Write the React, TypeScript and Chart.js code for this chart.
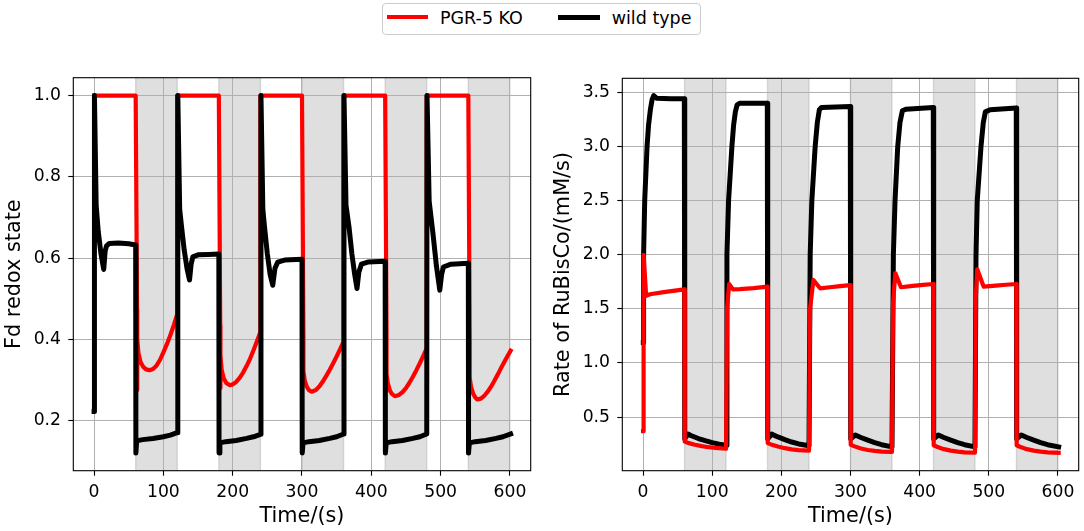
import { useEffect, useRef } from "react";
import { Chart, registerables } from "chart.js";

Chart.register(...registerables);

type Pt = [number, number];

const FONT = "'DejaVu Sans', sans-serif";

// light-off periods (shaded)
const darkPeriods: Pt[] = [
  [60, 120],
  [180, 240],
  [300, 360],
  [420, 480],
  [540, 600],
];

const timeTicks = [0, 100, 200, 300, 400, 500, 600];
const fdTicks = [0.2, 0.4, 0.6, 0.8, 1.0];
const rateTicks = [0.5, 1.0, 1.5, 2.0, 2.5, 3.0, 3.5];

// Fd redox state, PGR-5 KO
const fdKo: Pt[] = [
  [0, 1.0], [60, 1.0], [62, 0.474], [62, 0.275], [62.6, 0.4], [64, 0.366], [67, 0.344], [71, 0.332],
  [75, 0.326], [80, 0.324], [85, 0.327], [90, 0.335], [95, 0.349], [100, 0.368], [105, 0.388],
  [110, 0.41], [115, 0.435], [120, 0.462],
  [120, 1.0], [180, 1.0], [182, 0.435], [182, 0.28], [182.6, 0.36], [184, 0.326], [187, 0.304],
  [191, 0.292], [196, 0.287], [200, 0.289], [205, 0.295], [210, 0.305], [215, 0.318], [220, 0.334],
  [225, 0.352], [230, 0.373], [235, 0.395], [240, 0.418],
  [240, 1.0], [300, 1.0], [302, 0.418], [302, 0.322], [304, 0.298], [307, 0.283], [310, 0.275],
  [314, 0.271], [320, 0.275], [325, 0.284], [330, 0.296], [335, 0.31], [340, 0.325], [345, 0.341],
  [350, 0.358], [355, 0.376], [360, 0.394],
  [360, 1.0], [420, 1.0], [422, 0.406], [422, 0.315], [424, 0.29], [427, 0.273], [430, 0.265],
  [434, 0.26], [440, 0.263], [445, 0.27], [450, 0.28], [455, 0.293], [460, 0.308], [465, 0.324],
  [470, 0.341], [475, 0.359], [480, 0.378],
  [480, 1.0], [540, 1.0], [542, 0.398], [542, 0.305], [544, 0.282], [547, 0.266], [550, 0.257],
  [553, 0.252], [558, 0.254], [563, 0.261], [568, 0.271], [573, 0.284], [578, 0.299], [583, 0.315],
  [588, 0.332], [594, 0.351], [601, 0.372],
];

// Fd redox state, wild type
const fdWt: Pt[] = [
  [0, 0.222], [0.5, 1.0], [3, 0.73], [6, 0.665], [10, 0.61], [13.9, 0.572], [16, 0.618], [18, 0.63],
  [22, 0.636], [35, 0.637], [50, 0.635], [60, 0.632],
  [60.3, 0.12], [61.5, 0.15], [70, 0.153], [85, 0.156], [100, 0.16], [110, 0.164], [120, 0.17],
  [120.8, 1.0], [123.5, 0.72], [126, 0.68], [130, 0.62], [134, 0.575], [137.7, 0.546], [140, 0.585],
  [142.5, 0.603], [150, 0.608], [165, 0.609], [180, 0.61],
  [180.3, 0.12], [181.5, 0.145], [190, 0.148], [205, 0.151], [220, 0.156], [230, 0.16], [240, 0.166],
  [240.8, 1.0], [243.5, 0.72], [246, 0.675], [250, 0.61], [254, 0.56], [257.8, 0.533], [261, 0.575],
  [265, 0.59], [275, 0.595], [300, 0.597],
  [300.3, 0.12], [301.5, 0.145], [310, 0.148], [325, 0.151], [340, 0.156], [350, 0.16], [360, 0.167],
  [360.6, 1.0], [363.5, 0.73], [367.8, 0.677], [372, 0.61], [376, 0.56], [379.4, 0.525], [382, 0.565],
  [385.7, 0.585], [395, 0.59], [420, 0.592],
  [420.3, 0.12], [421.5, 0.145], [430, 0.148], [445, 0.151], [460, 0.156], [470, 0.16], [480, 0.167],
  [480.4, 1.0], [483.5, 0.74], [489, 0.66], [494, 0.58], [498.8, 0.521], [501.5, 0.56], [504, 0.578],
  [515, 0.585], [540, 0.587],
  [540.3, 0.12], [541.5, 0.145], [550, 0.148], [565, 0.151], [580, 0.156], [590, 0.16], [601, 0.167],
];

// Rate of RuBisCo, PGR-5 KO
const rateKo: Pt[] = [
  [0, 0.37], [0.8, 2.0], [4.5, 1.62], [10, 1.635], [30, 1.655], [59.7, 1.68],
  [60.3, 0.275], [65, 0.262], [75, 0.245], [85, 0.232], [95, 0.222], [105, 0.215], [120, 0.208],
  [121.5, 1.5], [124.5, 1.73], [130, 1.68], [140, 1.682], [160, 1.692], [179.7, 1.705],
  [180.3, 0.26], [185, 0.248], [195, 0.228], [205, 0.213], [215, 0.202], [225, 0.195], [240, 0.19],
  [241.5, 1.5], [246.4, 1.767], [256, 1.69], [270, 1.7], [285, 1.71], [299.7, 1.72],
  [300.3, 0.245], [305, 0.232], [315, 0.21], [325, 0.196], [335, 0.188], [345, 0.182], [360, 0.178],
  [361.5, 1.55], [364.8, 1.83], [373, 1.7], [390, 1.713], [405, 1.722], [419.7, 1.73],
  [420.3, 0.24], [425, 0.226], [435, 0.204], [445, 0.19], [455, 0.181], [465, 0.175], [480, 0.171],
  [481.2, 1.6], [483.3, 1.866], [492.6, 1.705], [510, 1.715], [525, 1.723], [539.7, 1.73],
  [540.3, 0.24], [545, 0.226], [555, 0.204], [565, 0.19], [575, 0.181], [585, 0.175], [601, 0.17],
];

// Rate of RuBisCo, wild type
const rateWt: Pt[] = [
  [0.4, 1.19], [0.8, 2.0], [2.4, 2.5], [5.8, 3.0], [8, 3.2], [10.6, 3.34], [13, 3.43], [15.4, 3.47],
  [20, 3.445], [40, 3.44], [59.7, 3.44],
  [60.3, 0.3], [65, 0.343], [70, 0.328], [80, 0.302], [90, 0.282], [100, 0.264], [110, 0.25], [120, 0.24],
  [121.3, 2.0], [123.7, 2.5], [128.5, 3.0], [131, 3.2], [133.5, 3.32], [136, 3.385], [140, 3.4], [179.7, 3.4],
  [180.3, 0.3], [186, 0.343], [195, 0.317], [205, 0.292], [215, 0.27], [225, 0.252], [240, 0.235],
  [241.7, 2.0], [244.1, 2.5], [248.9, 3.0], [252, 3.22], [255, 3.34], [258, 3.36], [299.7, 3.37],
  [300.3, 0.3], [307, 0.335], [315, 0.312], [325, 0.287], [335, 0.264], [345, 0.245], [360, 0.225],
  [362, 2.0], [364.4, 2.5], [368.3, 3.0], [371.5, 3.22], [375, 3.33], [380, 3.345], [419.7, 3.36],
  [420.3, 0.3], [427, 0.335], [435, 0.312], [445, 0.287], [455, 0.264], [465, 0.245], [480, 0.225],
  [481.5, 2.0], [483.3, 2.5], [488.7, 3.0], [492, 3.22], [495, 3.32], [502, 3.34], [539.7, 3.355],
  [540.3, 0.3], [547, 0.335], [555, 0.312], [565, 0.287], [575, 0.264], [585, 0.245], [601, 0.225],
];

const shadePlugin = {
  id: "shade",
  beforeDraw(chart: any) {
    const { ctx, chartArea: a, scales } = chart;
    ctx.save();
    ctx.fillStyle = "rgba(128,128,128,0.25)";
    ctx.strokeStyle = "rgba(128,128,128,0.25)";
    ctx.lineWidth = 1.4;
    for (const [s, e] of darkPeriods) {
      const x0 = scales.x.getPixelForValue(s);
      const x1 = scales.x.getPixelForValue(e);
      ctx.fillRect(x0, a.top, x1 - x0, a.bottom - a.top);
      ctx.beginPath();
      ctx.moveTo(x0, a.top);
      ctx.lineTo(x0, a.bottom);
      ctx.moveTo(x1, a.top);
      ctx.lineTo(x1, a.bottom);
      ctx.stroke();
    }
    ctx.restore();
  },
};

const framePlugin = {
  id: "frame",
  afterDraw(chart: any) {
    const { ctx, chartArea: a } = chart;
    ctx.save();
    ctx.strokeStyle = "#000";
    ctx.lineWidth = 1.1;
    ctx.strokeRect(a.left, a.top, a.right - a.left, a.bottom - a.top);
    ctx.restore();
  },
};

type Series = { pts: Pt[]; color: string; width: number; order: number };

type PanelProps = {
  left: number;
  width: number;
  yMin: number;
  yMax: number;
  yTicks: number[];
  yTitle: string;
  yWidth: number;
  titlePad: number;
  padTop: number;
  padRight: number;
  series: Series[];
};

function Panel({ left, width, yMin, yMax, yTicks, yTitle, yWidth, titlePad, padTop, padRight, series }: PanelProps) {
  const canvasRef = useRef<HTMLCanvasElement | null>(null);

  useEffect(() => {
    if (!canvasRef.current) return;
    const grid = { color: "#b0b0b0", lineWidth: 1, tickColor: "#000", tickLength: 5, tickWidth: 1.1 };
    const chart = new Chart(canvasRef.current, {
      type: "line",
      data: {
        datasets: series.map((s) => ({
          data: s.pts.map(([x, y]) => ({ x, y })),
          borderColor: s.color,
          borderWidth: s.width,
          pointRadius: 0,
          tension: 0,
          fill: false,
          order: s.order,
          borderJoinStyle: "round" as const,
          borderCapStyle: "square" as const,
        })),
      },
      options: {
        responsive: false,
        animation: false,
        events: [],
        layout: { padding: { left: 0, top: padTop, right: padRight, bottom: 0 } },
        plugins: { legend: { display: false }, tooltip: { enabled: false } },
        scales: {
          x: {
            type: "linear",
            min: -30,
            max: 630,
            afterBuildTicks: (s: any) => {
              s.ticks = timeTicks.map((value) => ({ value }));
            },
            afterFit: (s: any) => {
              s.height = 60.3;
            },
            grid,
            border: { display: false },
            ticks: {
              color: "#000",
              font: { family: FONT, size: 17.2 },
              padding: 6.2,
              maxRotation: 0,
              autoSkip: false,
              callback: (v: any) => String(v),
            },
            title: {
              display: true,
              text: "Time/(s)",
              color: "#000",
              font: { family: FONT, size: 20.8 },
              padding: { top: 0, bottom: 1.9 },
            },
          },
          y: {
            type: "linear",
            min: yMin,
            max: yMax,
            afterBuildTicks: (s: any) => {
              s.ticks = yTicks.map((value) => ({ value }));
            },
            afterFit: (s: any) => {
              s.width = yWidth;
            },
            grid,
            border: { display: false },
            ticks: {
              color: "#000",
              font: { family: FONT, size: 17.2 },
              padding: 7.3,
              autoSkip: false,
              callback: (v: any) => Number(v).toFixed(1),
            },
            title: {
              display: true,
              text: yTitle,
              color: "#000",
              font: { family: FONT, size: 20.8 },
              padding: { top: titlePad, bottom: 0 },
            },
          },
        },
      },
      plugins: [shadePlugin, framePlugin],
    });
    return () => chart.destroy();
  }, []);

  return (
    <canvas
      ref={canvasRef}
      width={width}
      height={471}
      style={{ position: "absolute", left, top: 60, width, height: 471 }}
    />
  );
}

const legendText = { position: "absolute" as const, top: 7.6, fontFamily: FONT, fontSize: 17.5, lineHeight: "20.5px", color: "#000", whiteSpace: "nowrap" as const };

export default function App() {
  return (
    <div style={{ position: "fixed", left: 0, top: 0, width: 1084, height: 531, background: "#fff", overflow: "hidden" }}>
      <Panel
        left={0}
        width={540}
        yMin={0.0765}
        yMax={1.044}
        yTicks={fdTicks}
        yTitle="Fd redox state"
        yWidth={73.3}
        titlePad={2.0}
        padTop={17.7}
        padRight={9.3}
        series={[
          { pts: fdKo, color: "#ff0000", width: 4.2, order: 1 },
          { pts: fdWt, color: "#000000", width: 5, order: 0 },
        ]}
      />
      <Panel
        left={540}
        width={544}
        yMin={0.005}
        yMax={3.63}
        yTicks={rateTicks}
        yTitle="Rate of RuBisCo/(mM/s)"
        yWidth={82.3}
        titlePad={11.0}
        padTop={18.3}
        padRight={5.3}
        series={[
          { pts: rateKo, color: "#ff0000", width: 4.2, order: 0 },
          { pts: rateWt, color: "#000000", width: 5, order: 1 },
        ]}
      />
      <div
        style={{
          position: "absolute",
          left: 381.7,
          top: 3.3,
          width: 319,
          height: 31.7,
          boxSizing: "border-box",
          border: "1px solid #cccccc",
          borderRadius: 4,
          background: "#fff",
        }}
      />
      <div style={{ position: "absolute", left: 387, top: 15.3, width: 41, height: 4.2, background: "#ff0000" }} />
      <div style={{ ...legendText, left: 440 }}>PGR-5 KO</div>
      <div style={{ position: "absolute", left: 558, top: 15, width: 42, height: 4.8, background: "#000" }} />
      <div style={{ ...legendText, left: 611.7 }}>wild type</div>
    </div>
  );
}
